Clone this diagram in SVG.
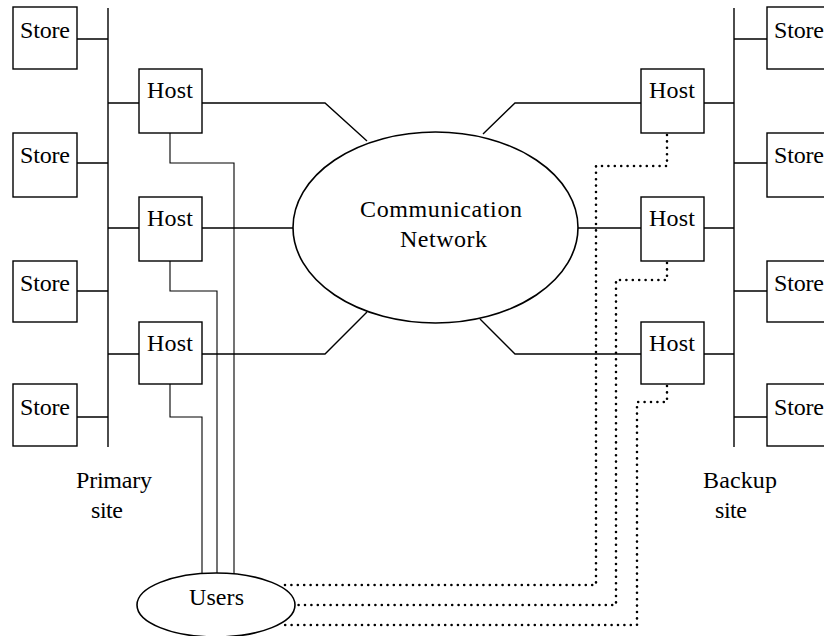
<svg xmlns="http://www.w3.org/2000/svg" width="824" height="636" viewBox="0 0 824 636">
<style>
.box{fill:#fff;stroke:#000;stroke-width:1.4}
.ell{fill:#fff;stroke:#000;stroke-width:1.6}
.t{font-family:"Liberation Serif","Times New Roman",serif;font-size:24px;fill:#000}
.ln{fill:none;stroke:#000;stroke-width:1.4}
.thin{fill:none;stroke:#000;stroke-width:1.1}
.dot{fill:none;stroke:#000;stroke-width:2.6;stroke-linecap:round;stroke-dasharray:0 6.4}
</style>
<rect width="824" height="636" fill="#fff"/>
<g id="connectors">
  <line class="ln" x1="108" y1="8" x2="108" y2="447"/>
  <line class="ln" x1="734" y1="8" x2="734" y2="447"/>
  <path class="ln" d="M77 39H108M77 163H108M77 291H108M77 417H108"/>
  <path class="ln" d="M734 39H767M734 163H767M734 291H767M734 417H767"/>
  <path class="ln" d="M108 103H139M108 228H139M108 354H139"/>
  <path class="ln" d="M704 103H734M704 228H734M704 354H734"/>
  <path class="ln" d="M202 103H325L367 141"/>
  <path class="ln" d="M202 228H293"/>
  <path class="ln" d="M202 354H325L367 312"/>
  <path class="ln" d="M641 103H515L483 134"/>
  <path class="ln" d="M578 228H641"/>
  <path class="ln" d="M641 354H515L480 319"/>
  <path class="thin" d="M170 133V163H234V574"/>
  <path class="thin" d="M170 261V291H217V573"/>
  <path class="thin" d="M170 384V417H202V574"/>
  <path class="dot" d="M667 135V166H596V585H282"/>
  <path class="dot" d="M667 263V280H616V605H296"/>
  <path class="dot" d="M667 386V402H637V625H280"/>
</g>
<g id="store-p1"><rect class="box" x="13" y="7" width="64" height="62"/><text class="t" x="20" y="38" textLength="50">Store</text></g>
<g id="store-p2"><rect class="box" x="13" y="133" width="64" height="64"/><text class="t" x="20" y="163" textLength="50">Store</text></g>
<g id="store-p3"><rect class="box" x="13" y="261" width="64" height="61"/><text class="t" x="20" y="291" textLength="50">Store</text></g>
<g id="store-p4"><rect class="box" x="13" y="384" width="64" height="62"/><text class="t" x="20" y="415" textLength="50">Store</text></g>
<g id="host-p1"><rect class="box" x="139" y="69" width="63" height="64"/><text class="t" x="147" y="98" textLength="46">Host</text></g>
<g id="host-p2"><rect class="box" x="139" y="197" width="63" height="64"/><text class="t" x="147" y="226" textLength="46">Host</text></g>
<g id="host-p3"><rect class="box" x="139" y="322" width="63" height="62"/><text class="t" x="147" y="351" textLength="46">Host</text></g>
<g id="host-b1"><rect class="box" x="641" y="69" width="63" height="64"/><text class="t" x="649" y="98" textLength="46">Host</text></g>
<g id="host-b2"><rect class="box" x="641" y="197" width="63" height="64"/><text class="t" x="649" y="226" textLength="46">Host</text></g>
<g id="host-b3"><rect class="box" x="641" y="322" width="63" height="62"/><text class="t" x="649" y="351" textLength="46">Host</text></g>
<g id="store-b1"><rect class="box" x="767" y="7" width="64" height="62"/><text class="t" x="774" y="38" textLength="50">Store</text></g>
<g id="store-b2"><rect class="box" x="767" y="133" width="64" height="64"/><text class="t" x="774" y="163" textLength="50">Store</text></g>
<g id="store-b3"><rect class="box" x="767" y="261" width="64" height="61"/><text class="t" x="774" y="291" textLength="50">Store</text></g>
<g id="store-b4"><rect class="box" x="767" y="384" width="64" height="62"/><text class="t" x="774" y="415" textLength="50">Store</text></g>
<g id="network"><ellipse class="ell" cx="435.5" cy="227.5" rx="142.5" ry="95.5"/>
  <text class="t" x="360" y="217" textLength="162">Communication</text>
  <text class="t" x="400" y="247" textLength="87">Network</text></g>
<g id="users"><ellipse class="ell" cx="216" cy="605" rx="79" ry="32"/>
  <text class="t" x="189" y="605" textLength="55">Users</text></g>
<g id="primary-label"><text class="t" x="76" y="488" textLength="76">Primary</text><text class="t" x="91" y="518" textLength="32">site</text></g>
<g id="backup-label"><text class="t" x="703" y="488" textLength="74">Backup</text><text class="t" x="715" y="518" textLength="32">site</text></g>
</svg>
